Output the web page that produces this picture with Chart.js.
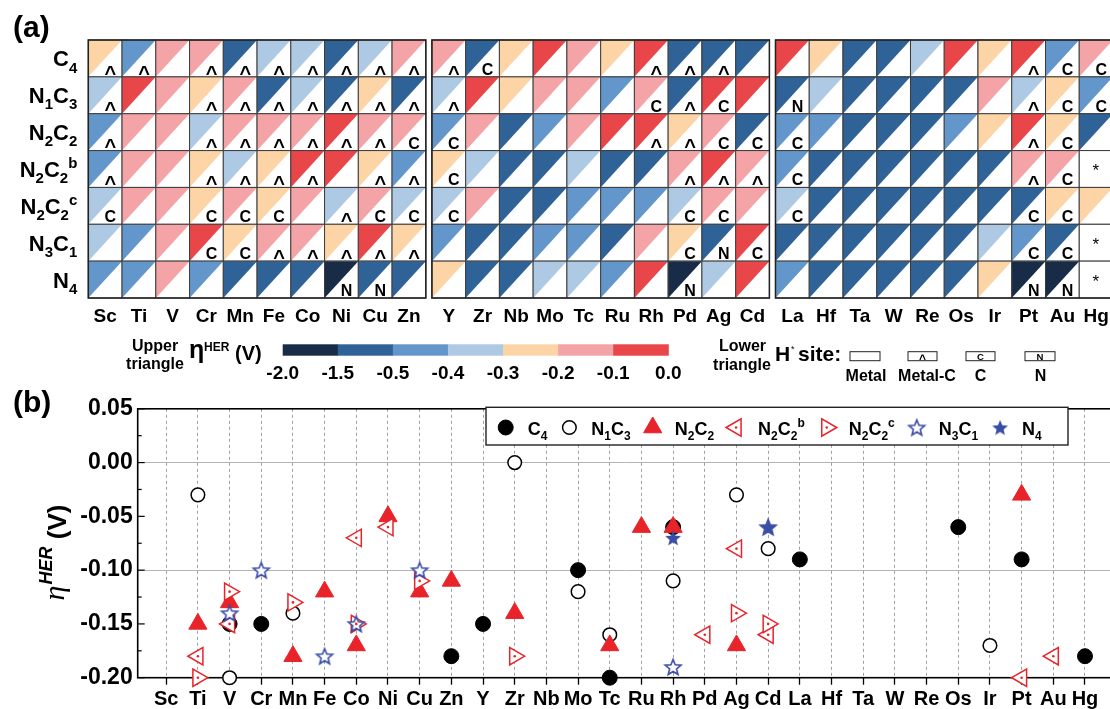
<!DOCTYPE html>
<html>
<head>
<meta charset="utf-8">
<title>HER overpotential of single-atom M-N-C sites</title>
<script src="https://cdn.jsdelivr.net/npm/chart.js@4.4.1/dist/chart.umd.min.js"></script>
<style>
    html, body { margin: 0; padding: 0; background: #fff; overflow: hidden; }
    #wrapA { position: absolute; left: 0; top: 0; width: 1125px; height: 390px; }
    #wrapB { position: absolute; left: 0; top: 390px; width: 1125px; height: 319px; }
</style>
</head>
<body>
<div id="wrapA"><canvas id="heatChart"></canvas></div>
<div id="wrapB"><canvas id="herChart"></canvas></div>
<script>
const FONT = "'Liberation Sans', Arial, sans-serif";
const RED = '#e8232a';
const BLUE = '#3a4ca6';

// Metals (columns of panel a, categories of panel b)
const metals = ['Sc', 'Ti', 'V', 'Cr', 'Mn', 'Fe', 'Co', 'Ni', 'Cu', 'Zn',
                'Y', 'Zr', 'Nb', 'Mo', 'Tc', 'Ru', 'Rh', 'Pd', 'Ag', 'Cd',
                'La', 'Hf', 'Ta', 'W', 'Re', 'Os', 'Ir', 'Pt', 'Au', 'Hg'];

// Coordination configurations (rows of panel a, series of panel b)
const configLabels = ['C_4', 'N_1C_3', 'N_2C_2', 'N_2C_2^b', 'N_2C_2^c', 'N_3C_1', 'N_4'];

// Colour bar of panel (a)
const etaBins = ['-2.0', '-1.5', '-0.5', '-0.4', '-0.3', '-0.2', '-0.1', '0.0'];
const binColors = ['#182c47', '#2f6398', '#6397cb', '#aec9e3', '#fdd4a5', '#f4a3a6', '#e9464a'];

// Panel (a): colour class of the upper triangle (index into binColors), null = no data
const levelC4   = [4, 2, 5, 5, 1, 3, 3, 1, 3, 5,  5, 1, 4, 6, 5, 4, 6, 1, 1, 1,  6, 4, 1, 1, 3, 6, 4, 6, 2, 5];
const levelN1C3 = [3, 6, 5, 4, 5, 1, 3, 1, 4, 1,  3, 6, 4, 5, 5, 2, 5, 1, 6, 6,  1, 3, 1, 1, 1, 1, 5, 3, 4, 2];
const levelN2C2 = [2, 5, 5, 3, 5, 5, 5, 6, 5, 5,  2, 5, 1, 2, 5, 6, 6, 4, 5, 1,  2, 2, 1, 1, 1, 2, 4, 6, 4, 1];
const levelN2C2b = [2, 5, 5, 4, 3, 4, 6, 6, 4, 2,  4, 3, 1, 1, 3, 1, 1, 5, 6, 5,  2, 1, 1, 1, 1, 1, 1, 5, 5, null];
const levelN2C2c = [3, 5, 5, 4, 5, 4, 5, 3, 5, 3,  3, 5, 1, 1, 2, 2, 2, 3, 5, 5,  3, 1, 1, 1, 1, 1, 1, 1, 4, 4];
const levelN3C1 = [3, 2, 5, 6, 4, 5, 5, 4, 6, 4,  2, 1, 1, 2, 2, 1, 5, 4, 1, 6,  1, 1, 1, 1, 1, 1, 3, 2, 1, null];
const levelN4   = [2, 2, 5, 2, 1, 1, 1, 0, 1, 1,  4, 1, 1, 3, 3, 2, 6, 0, 3, 6,  2, 1, 1, 1, 1, 1, 4, 0, 0, null];

// Panel (a): H* site in the lower triangle ('' metal, '^' metal-C, 'C', 'N', '*' no data)
const siteC4    = ['^', '^', '', '^', '^', '^', '^', '^', '^', '^',  '^', 'C', '', '', '', '', '^', '^', '^', '',  '', '', '', '', '', '', '', '^', 'C', 'C'];
const siteN1C3  = ['^', '', '', '^', '^', '^', '^', '^', '^', '^',  '^', '', '', '', '', '', 'C', '^', 'C', '',  'N', '', '', '', '', '', '', '^', 'C', 'C'];
const siteN2C2  = ['^', '', '', '^', '^', '^', '^', '^', '^', 'C',  'C', '', '', '', '', '', '^', '^', 'C', 'C',  'C', '', '', '', '', '', '', '^', 'C', ''];
const siteN2C2b = ['^', '', '', '^', '^', '^', '^', '', '^', '^',  'C', '', '', '', '', '', '', '^', '^', '^',  'C', '', '', '', '', '', '', '^', 'C', '*'];
const siteN2C2c = ['C', '', '', 'C', 'C', 'C', '', '^', 'C', 'C',  'C', '', '', '', '', '', '', 'C', 'C', '',  'C', '', '', '', '', '', '', 'C', 'C', ''];
const siteN3C1  = ['', '', '', 'C', 'C', '^', '^', '^', '^', '^',  '', '', '', '', '', '', '', 'C', 'N', 'C',  '', '', '', '', '', '', '', 'C', 'C', '*'];
const siteN4    = ['', '', '', '', '', '', '', 'N', 'N', '',  '', '', '', '', '', '', '', 'N', '', '',  '', '', '', '', '', '', '', 'N', 'N', '*'];

// Panel (b): eta_HER (V), null = not shown
const etaC4    = [null, null, -0.15, -0.15, null, null, null, null, null, -0.18,
                  -0.15, null, null, -0.10, -0.20, null, -0.06, null, null, null,
                  -0.09, null, null, null, null, -0.06, null, -0.09, null, -0.18];
const etaN1C3  = [null, -0.03, -0.20, null, -0.14, null, null, null, null, null,
                  null, 0.00, null, -0.12, -0.16, null, -0.11, null, -0.03, -0.08,
                  null, null, null, null, null, null, -0.17, null, null, null];
const etaN2C2  = [null, -0.15, -0.13, null, -0.18, -0.12, -0.17, -0.05, -0.12, -0.11,
                  null, -0.14, null, null, -0.17, -0.06, -0.06, null, -0.17, null,
                  null, null, null, null, null, null, null, -0.03, null, null];
const etaN2C2b = [null, -0.18, -0.15, null, null, null, -0.07, -0.06, null, null,
                  null, null, null, null, null, null, null, -0.16, -0.08, -0.16,
                  null, null, null, null, null, null, null, -0.20, -0.18, null];
const etaN2C2c = [null, -0.20, -0.12, null, -0.13, null, -0.15, null, -0.11, null,
                  null, -0.18, null, null, null, null, null, null, -0.14, -0.15,
                  null, null, null, null, null, null, null, null, null, null];
const etaN3C1  = [null, null, -0.14, -0.10, null, -0.18, -0.15, null, -0.10, null,
                  null, null, null, null, null, null, -0.19, null, null, -0.06,
                  null, null, null, null, null, null, null, null, null, null];
const etaN4    = [null, null, null, null, null, null, null, null, null, null,
                  null, null, null, null, null, null, -0.07, null, null, -0.06,
                  null, null, null, null, null, null, null, null, null, null];

const heatLevels = [levelC4, levelN1C3, levelN2C2, levelN2C2b, levelN2C2c, levelN3C1, levelN4];
const heatSites = [siteC4, siteN1C3, siteN2C2, siteN2C2b, siteN2C2c, siteN3C1, siteN4];
const etaSeries = [etaC4, etaN1C3, etaN2C2, etaN2C2b, etaN2C2c, etaN3C1, etaN4];

// small text helpers: "N_2C_2^b" -> subscripts / superscripts
function parseRich(str) {
    const segs = [];
    let i = 0;
    while (i < str.length) {
        const ch = str[i];
        if ((ch === '_' || ch === '^') && i + 1 < str.length) {
            segs.push({ t: str[i + 1], mode: ch === '_' ? 'sub' : 'sup' });
            i += 2;
        } else {
            const last = segs[segs.length - 1];
            if (last && last.mode === 'n') last.t += ch; else segs.push({ t: ch, mode: 'n' });
            i++;
        }
    }
    return segs;
}

function segFont(mode, size, weight) {
    const s = mode === 'n' ? size : Math.round(size * 0.68);
    return `${weight} ${s}px ${FONT}`;
}

function richWidth(ctx, str, size, weight) {
    let w = 0;
    parseRich(str).forEach(seg => {
        ctx.font = segFont(seg.mode, size, weight);
        w += ctx.measureText(seg.t).width;
    });
    return w;
}

function drawRich(ctx, str, x, y, size, weight = 'bold', align = 'left') {
    const w = richWidth(ctx, str, size, weight);
    let cx = align === 'right' ? x - w : align === 'center' ? x - w / 2 : x;
    ctx.textAlign = 'left';
    ctx.textBaseline = 'alphabetic';
    ctx.fillStyle = '#000';
    parseRich(str).forEach(seg => {
        ctx.font = segFont(seg.mode, size, weight);
        const dy = seg.mode === 'sub' ? size * 0.28 : seg.mode === 'sup' ? -size * 0.42 : 0;
        ctx.fillText(seg.t, cx, y + dy);
        cx += ctx.measureText(seg.t).width;
    });
    return w;
}

function drawText(ctx, txt, x, y, font, align = 'center') {
    ctx.font = font;
    ctx.fillStyle = '#000';
    ctx.textAlign = align;
    ctx.textBaseline = 'alphabetic';
    ctx.fillText(txt, x, y);
}

// H* site mark, centred at (cx, cy)
function drawSiteMark(ctx, site, cx, cy, k = 1) {
    if (site === '^') drawText(ctx, '^', cx, cy + 10.5 * k, `bold ${20 * k}px ${FONT}`);
    else if (site === 'C' || site === 'N') drawText(ctx, site, cx, cy + 5.8 * k, `bold ${16 * k}px ${FONT}`);
}

// ---------------- Panel (a) ----------------
const blockGap = 0.18;
const colPos = i => i + Math.floor(i / 10) * blockGap;

const heatPlugin = {
    id: 'heatCells',
    afterDatasetsDraw(chart) {
        const ctx = chart.ctx;
        const xs = chart.scales.x, ys = chart.scales.y;
        ctx.save();
        chart.data.datasets.forEach(ds => {
            ds.data.forEach(p => {
                const l = xs.getPixelForValue(p.x - 0.5), r = xs.getPixelForValue(p.x + 0.5);
                const t = ys.getPixelForValue(p.y - 0.5), b = ys.getPixelForValue(p.y + 0.5);
                const w = r - l, h = b - t;
                ctx.fillStyle = '#fff';
                ctx.fillRect(l, t, w, h);
                if (p.level !== null) {
                    ctx.fillStyle = binColors[p.level];
                    ctx.beginPath();
                    ctx.moveTo(l, t); ctx.lineTo(r, t); ctx.lineTo(l, b);
                    ctx.closePath();
                    ctx.fill();
                }
                if (p.site === '*') {
                    drawText(ctx, '*', l + w * 0.49, t + h * 0.43 + 10, `17px ${FONT}`);
                } else {
                    drawSiteMark(ctx, p.site, l + w * 0.65, t + h * 0.79);
                }
                ctx.strokeStyle = '#3a3a3a';
                ctx.lineWidth = 1;
                ctx.strokeRect(l, t, w, h);
            });
        });
        // block outlines
        ctx.strokeStyle = '#222';
        ctx.lineWidth = 1.5;
        for (let bI = 0; bI < 3; bI++) {
            const l = xs.getPixelForValue(colPos(bI * 10) - 0.5);
            const r = xs.getPixelForValue(colPos(bI * 10 + 9) + 0.5);
            const t = ys.getPixelForValue(-0.5), b = ys.getPixelForValue(configLabels.length - 0.5);
            ctx.strokeRect(l, t, r - l, b - t);
        }
        ctx.restore();
    },
    afterDraw(chart) {
        const ctx = chart.ctx;
        const ys = chart.scales.y;
        ctx.save();
        drawText(ctx, '(a)', 13, 37, `bold 30px ${FONT}`, 'left');

        // row labels
        configLabels.forEach((lab, r) => {
            drawRich(ctx, lab, chart.chartArea.left - 11, ys.getPixelForValue(r) + 8, 22, 'bold', 'right');
        });

        // colour bar legend
        drawText(ctx, 'Upper', 155, 351, `bold 16px ${FONT}`);
        drawText(ctx, 'triangle', 155, 369, `bold 16px ${FONT}`);
        drawText(ctx, '\u03b7', 189, 358, `bold 25px ${FONT}`, 'left');
        drawText(ctx, 'HER', 204, 351, `bold 12px ${FONT}`, 'left');
        drawText(ctx, '(V)', 235, 360, `bold 20px ${FONT}`, 'left');

        const barL = 282.7, barR = 668.3, barT = 344.3, barB = 355.7;
        const seg = (barR - barL) / binColors.length;
        binColors.forEach((c, k) => {
            ctx.fillStyle = c;
            ctx.fillRect(barL + k * seg, barT, seg + 0.5, barB - barT);
        });
        etaBins.forEach((lab, k) => {
            drawText(ctx, lab, barL + k * seg, 378.5, `bold 19px ${FONT}`);
        });

        drawText(ctx, 'Lower', 742.5, 351, `bold 16px ${FONT}`);
        drawText(ctx, 'triangle', 742, 370, `bold 16px ${FONT}`);
        drawText(ctx, 'H', 775, 361, `bold 21px ${FONT}`, 'left');
        drawText(ctx, '*', 791, 352, `9px ${FONT}`, 'left');
        drawText(ctx, 'site:', 798, 361, `bold 21px ${FONT}`, 'left');

        const boxes = [
            { l: 850, r: 880, site: '', label: 'Metal', lx: 866 },
            { l: 908, r: 937, site: '^', label: 'Metal-C', lx: 927 },
            { l: 966, r: 995, site: 'C', label: 'C', lx: 980.5 },
            { l: 1025, r: 1055, site: 'N', label: 'N', lx: 1040.5 }
        ];
        boxes.forEach(bx => {
            ctx.strokeStyle = '#222';
            ctx.lineWidth = 1;
            ctx.strokeRect(bx.l, 351.7, bx.r - bx.l, 9);
            drawSiteMark(ctx, bx.site, (bx.l + bx.r) / 2, 356.5, 0.6);
            drawText(ctx, bx.label, bx.lx, 381, `bold 16px ${FONT}`);
        });
        ctx.restore();
    }
};

new Chart(document.getElementById('heatChart'), {
    type: 'scatter',
    data: {
        datasets: configLabels.map((lab, r) => ({
            label: lab,
            data: metals.map((m, i) => ({ x: colPos(i), y: r, level: heatLevels[r][i], site: heatSites[r][i] })),
            pointRadius: 0,
            pointHoverRadius: 0
        }))
    },
    options: {
        responsive: true,
        maintainAspectRatio: false,
        animation: false,
        events: [],
        layout: { padding: { left: 88.3, top: 40, right: 12, bottom: 0 } },
        plugins: { legend: { display: false }, tooltip: { enabled: false } },
        scales: {
            x: {
                type: 'linear',
                min: -0.5,
                max: colPos(metals.length - 1) + 0.5,
                afterBuildTicks: s => { s.ticks = metals.map((m, i) => ({ value: colPos(i) })); },
                afterFit: s => { s.height = 92; },
                grid: { display: false, drawTicks: false },
                border: { display: false },
                ticks: {
                    autoSkip: false, maxRotation: 0, minRotation: 0, padding: 7, color: '#000',
                    font: { family: FONT, size: 19, weight: 'bold' },
                    callback: (v, i) => metals[i]
                }
            },
            y: { type: 'linear', display: false, min: -0.5, max: configLabels.length - 0.5, reverse: true }
        }
    },
    plugins: [heatPlugin]
});

// ---------------- Panel (b) ----------------
function makeStar(filled) {
    const c = document.createElement('canvas');
    c.width = 22; c.height = 22;
    const g = c.getContext('2d');
    const R = 8.3, ri = R * 0.44, cx = 11, cy = 11.8;
    g.beginPath();
    for (let k = 0; k < 10; k++) {
        const a = -Math.PI / 2 + k * Math.PI / 5;
        const rr = k % 2 ? ri : R;
        g.lineTo(cx + rr * Math.cos(a), cy + rr * Math.sin(a));
    }
    g.closePath();
    g.fillStyle = filled ? BLUE : '#fff';
    g.fill();
    if (!filled) { g.lineWidth = 1.6; g.strokeStyle = BLUE; g.stroke(); }
    return c;
}

const WHITE = '#fff';
const markerStyles = [
    { pointStyle: 'circle', rot: 0, r: 7.5, fill: '#000', stroke: '#000', bw: 1 },
    { pointStyle: 'circle', rot: 0, r: 6.8, fill: WHITE, stroke: '#000', bw: 1.5 },
    { pointStyle: 'triangle', rot: 0, r: 10.5, fill: RED, stroke: RED, bw: 1 },
    { pointStyle: 'triangle', rot: -90, r: 10, fill: WHITE, stroke: RED, bw: 1.5, dot: true },
    { pointStyle: 'triangle', rot: 90, r: 10, fill: WHITE, stroke: RED, bw: 1.5, dot: true },
    { pointStyle: makeStar(false), rot: 0, r: 8, fill: WHITE, stroke: BLUE, bw: 1 },
    { pointStyle: makeStar(true), rot: 0, r: 8, fill: BLUE, stroke: BLUE, bw: 1 }
];

function toPoints(values) {
    const pts = [];
    values.forEach((v, i) => { if (v !== null) pts.push({ x: i, y: v }); });
    return pts;
}

function drawLegendMarker(ctx, st, x, y) {
    ctx.save();
    if (typeof st.pointStyle !== 'string') {
        ctx.drawImage(st.pointStyle, x - st.pointStyle.width / 2, y - st.pointStyle.height / 2);
        ctx.restore();
        return;
    }
    ctx.beginPath();
    if (st.pointStyle === 'circle') {
        ctx.arc(x, y, st.r, 0, Math.PI * 2);
    } else {
        let a = st.rot * Math.PI / 180;
        for (let k = 0; k < 3; k++) {
            ctx.lineTo(x + Math.sin(a) * st.r, y - Math.cos(a) * st.r);
            a += Math.PI * 2 / 3;
        }
        ctx.closePath();
    }
    ctx.fillStyle = st.fill;
    ctx.fill();
    ctx.lineWidth = st.bw;
    ctx.strokeStyle = st.stroke;
    ctx.stroke();
    if (st.dot) {
        ctx.beginPath();
        ctx.arc(x, y, 1.3, 0, Math.PI * 2);
        ctx.fillStyle = RED;
        ctx.fill();
    }
    ctx.restore();
}

const isGridValue = v => Math.abs(v) < 1e-9 || Math.abs(v + 0.1) < 1e-9;

const herPlugin = {
    id: 'panelB',
    beforeDatasetsDraw(chart) {
        const ctx = chart.ctx, a = chart.chartArea, ys = chart.scales.y;
        ctx.save();
        // inward ticks on the y axis
        ctx.strokeStyle = '#000';
        ctx.lineWidth = 1.2;
        for (let v = -0.2; v <= 0.0501; v += 0.025) {
            const major = Math.abs(Math.round(v / 0.05) * 0.05 - v) < 1e-6;
            const y = ys.getPixelForValue(v);
            ctx.beginPath();
            ctx.moveTo(a.left, y);
            ctx.lineTo(a.left + (major ? 7 : 4), y);
            ctx.stroke();
        }
        ctx.lineWidth = 1.6;
        ctx.strokeRect(a.left, a.top, a.right - a.left, a.bottom - a.top);
        ctx.restore();
    },
    afterDatasetsDraw(chart) {
        const ctx = chart.ctx;
        ctx.save();
        chart.data.datasets.forEach((ds, k) => {
            if (!markerStyles[k].dot) return;
            chart.getDatasetMeta(k).data.forEach(pt => {
                ctx.beginPath();
                ctx.arc(pt.x, pt.y, 1.3, 0, Math.PI * 2);
                ctx.fillStyle = RED;
                ctx.fill();
            });
        });
        ctx.restore();
    },
    afterDraw(chart) {
        const ctx = chart.ctx;
        ctx.save();
        drawText(ctx, '(b)', 13, 22, `bold 30px ${FONT}`, 'left');

        // legend box
        ctx.fillStyle = '#fff';
        ctx.fillRect(486, 17.3, 582, 37.7);
        ctx.strokeStyle = '#222';
        ctx.lineWidth = 1.4;
        ctx.strokeRect(486, 17.3, 582, 37.7);
        let mx = 505.7;
        configLabels.forEach((lab, k) => {
            drawLegendMarker(ctx, markerStyles[k], mx, 37.5);
            const w = drawRich(ctx, lab, mx + 22, 44.5, 18);
            mx += 22 + w + 22;
        });

        // y axis title
        ctx.translate(66, 163);
        ctx.rotate(-Math.PI / 2);
        ctx.fillStyle = '#000';
        ctx.textBaseline = 'alphabetic';
        ctx.textAlign = 'left';
        const fEta = `italic 30px 'Liberation Serif', serif`;
        const fSup = `italic bold 18px ${FONT}`;
        const fV = `bold 26px ${FONT}`;
        ctx.font = fEta; const wEta = ctx.measureText('\u03b7').width;
        ctx.font = fSup; const wSup = ctx.measureText('HER').width;
        ctx.font = fV; const wV = ctx.measureText(' (V)').width;
        let x0 = -(wEta + wSup + wV) / 2;
        ctx.font = fEta; ctx.fillText('\u03b7', x0, -2); x0 += wEta + 1;
        ctx.font = fSup; ctx.fillText('HER', x0, -14); x0 += wSup;
        ctx.font = fV; ctx.fillText(' (V)', x0, 0);
        ctx.restore();
    }
};

new Chart(document.getElementById('herChart'), {
    type: 'scatter',
    data: {
        datasets: etaSeries.map((vals, k) => ({
            label: configLabels[k],
            data: toPoints(vals),
            pointStyle: markerStyles[k].pointStyle,
            pointRotation: markerStyles[k].rot,
            pointRadius: markerStyles[k].r,
            pointBackgroundColor: markerStyles[k].fill,
            pointBorderColor: markerStyles[k].stroke,
            pointBorderWidth: markerStyles[k].bw,
            clip: false,
            order: etaSeries.length - k
        }))
    },
    options: {
        responsive: true,
        maintainAspectRatio: false,
        animation: false,
        events: [],
        layout: { padding: { left: 0, top: 17.3, right: 11, bottom: 0 } },
        plugins: { legend: { display: false }, tooltip: { enabled: false } },
        scales: {
            x: {
                type: 'linear',
                min: -0.9,
                max: 29.9,
                afterBuildTicks: s => { s.ticks = metals.map((m, i) => ({ value: i })); },
                afterFit: s => { s.height = 31.3; },
                grid: { color: '#a0a0a0', lineWidth: 1, drawTicks: true, tickLength: 7, tickColor: '#000', tickWidth: 1.3 },
                border: { display: false, dash: [3, 3] },
                ticks: {
                    autoSkip: false, maxRotation: 0, minRotation: 0, padding: 3, color: '#000',
                    font: { family: FONT, size: 20, weight: 'bold' },
                    callback: (v, i) => metals[i]
                }
            },
            y: {
                type: 'linear',
                min: -0.2,
                max: 0.05,
                afterFit: s => { s.width = 137.7; },
                grid: { drawTicks: false, lineWidth: 1, color: c => isGridValue(c.tick.value) ? '#b4b4b4' : 'rgba(0,0,0,0)' },
                border: { display: false },
                ticks: {
                    stepSize: 0.05, padding: 5, color: '#000',
                    font: { family: FONT, size: 23, weight: 'bold' },
                    callback: v => Math.abs(v) < 1e-9 ? '0.00' : v.toFixed(2)
                }
            }
        }
    },
    plugins: [herPlugin]
});
</script>
</body>
</html>
